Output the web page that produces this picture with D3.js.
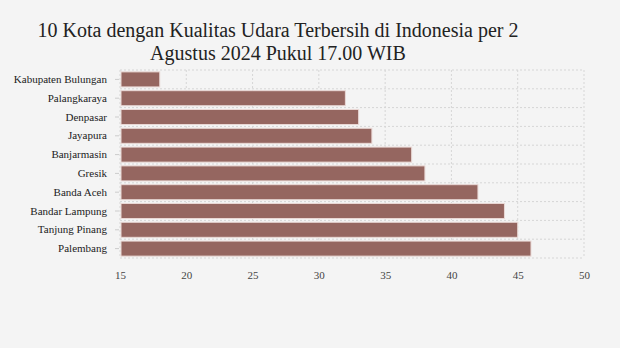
<!DOCTYPE html>
<html><head><meta charset="utf-8">
<script src="https://cdn.jsdelivr.net/npm/d3@7"></script>
<style>
html,body{margin:0;padding:0;background:#f4f4f4;}
svg{display:block;}
</style></head>
<body>
<svg id="chart" width="620" height="348"></svg>
<script>
const titleLines = ["10 Kota dengan Kualitas Udara Terbersih di Indonesia per 2", "Agustus 2024 Pukul 17.00 WIB"];
const cities = ["Kabupaten Bulungan","Palangkaraya","Denpasar","Jayapura","Banjarmasin","Gresik","Banda Aceh","Bandar Lampung","Tanjung Pinang","Palembang"];
const values = [18,32,33,34,37,38,42,44,45,46];
const xTicks = [15,20,25,30,35,40,45,50];

const svg = d3.select("#chart");
const W = 620, H = 348;
const m = {left:120, right:36, top:70, bottom:90};
svg.append("rect").attr("width",W).attr("height",H).attr("fill","#f4f4f4");

const x = d3.scaleLinear().domain([15,50]).range([m.left, W - m.right]);
const y = d3.scaleBand().domain(cities).range([m.top, H - m.bottom]).paddingInner(0.2).paddingOuter(0.1);

// title
const title = svg.append("text").attr("text-anchor","middle").attr("font-family","'Liberation Serif', serif")
  .attr("font-size",20).attr("fill","#222");
titleLines.forEach((t,i)=>{
  title.append("tspan").attr("x",278).attr("y",37 + i*23).text(t);
});

// grid
const g = svg.append("g");
g.selectAll("line.v").data(xTicks).join("line")
  .attr("x1",d=>x(d)).attr("x2",d=>x(d)).attr("y1",m.top).attr("y2",H-m.bottom)
  .attr("stroke","#d6d6d6").attr("stroke-width",1).attr("stroke-dasharray","2,2");
const bounds = cities.map(c=>y(c) - y.step()*y.paddingInner()/2);
bounds.push(H - m.bottom);
g.selectAll("line.h").data(bounds).join("line")
  .attr("x1",m.left).attr("x2",W-m.right).attr("y1",d=>d).attr("y2",d=>d)
  .attr("stroke","#d6d6d6").attr("stroke-width",1).attr("stroke-dasharray","2,2");

// bars
svg.append("g").selectAll("rect").data(cities).join("rect")
  .attr("x",x(15)+1).attr("y",d=>y(d))
  .attr("width",(d,i)=>x(values[i]) - x(15) - 1).attr("height",y.bandwidth())
  .attr("fill","#956660").attr("stroke","#ead9d6").attr("stroke-width",1);

// y axis
const ya = svg.append("g").attr("transform",`translate(${m.left-1},0)`)
  .call(d3.axisLeft(y).tickSize(4).tickPadding(8));
ya.select(".domain").remove();
ya.selectAll(".tick line").attr("stroke","#cccccc");
ya.selectAll(".tick text").attr("font-family","'Liberation Serif', serif").attr("font-size",11).attr("fill","#222");

// x axis
const xa = svg.append("g").attr("transform",`translate(0,${H-m.bottom})`)
  .call(d3.axisBottom(x).tickValues(xTicks).tickSize(0).tickPadding(13));
xa.select(".domain").remove();
xa.selectAll(".tick text").attr("font-family","'Liberation Serif', serif").attr("font-size",11).attr("fill","#444");
</script>
</body></html>
